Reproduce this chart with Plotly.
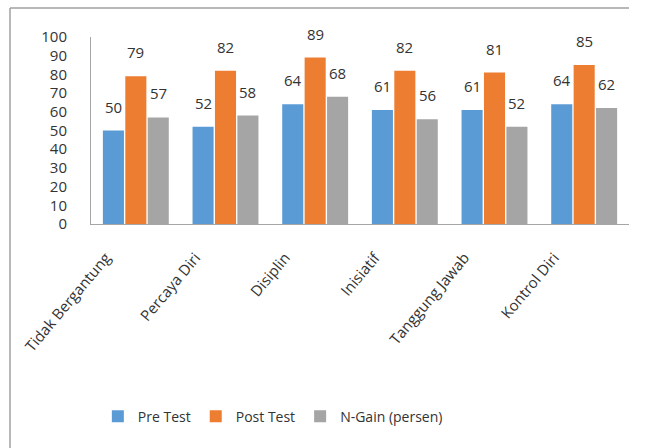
import plotly.graph_objects as go

categories = ["Tidak Bergantung", "Percaya Diri", "Disiplin", "Inisiatif", "Tanggung Jawab", "Kontrol Diri"]
pre_test = [50, 52, 64, 61, 61, 64]
post_test = [79, 82, 89, 82, 81, 85]
n_gain = [57, 58, 68, 56, 52, 62]
series_names = ["Pre Test", "Post Test", "N-Gain (persen)"]
colors = ["#5B9BD5", "#ED7D31", "#A5A5A5"]
y_ticks = [0, 10, 20, 30, 40, 50, 60, 70, 80, 90, 100]

FONT = "Open Sans, sans-serif"
TXT = "#333333"
fig = go.Figure()
all_series = [pre_test, post_test, n_gain]
for name, vals, col in zip(series_names, all_series, colors):
    fig.add_trace(go.Bar(x=categories, y=vals, name=name, marker=dict(color=col, line=dict(width=0))))

offsets = [-0.25, 0.0, 0.25]
for vals, off in zip(all_series, offsets):
    for i, v in enumerate(vals):
        fig.add_annotation(x=i + off, y=v, text=str(v), showarrow=False,
                           yanchor="bottom", yshift=12,
                           font=dict(family=FONT, size=15, color=TXT))

fig.update_layout(
    width=648, height=448,
    margin=dict(l=91, r=19, t=37, b=224),
    paper_bgcolor="white", plot_bgcolor="white",
    barmode="group", bargap=0.25, bargroupgap=0.06,
    font=dict(family=FONT, size=14, color=TXT),
    showlegend=True,
    legend=dict(orientation="h", x=0.338, xanchor="center", y=-1.03, yanchor="middle",
                font=dict(family=FONT, size=14, color=TXT), itemwidth=30,
                traceorder="normal"),
    xaxis=dict(showline=True, linecolor="#A6A6A6", linewidth=1, tickangle=-50,
               ticks="", showgrid=False, ticklabelstandoff=18, ticklabelshift=-30,
               tickfont=dict(family=FONT, size=15, color=TXT)),
    yaxis=dict(range=[0, 100], tickvals=y_ticks, showline=True, linecolor="#A6A6A6",
               linewidth=1, showgrid=False, zeroline=False, ticks="",
               ticklabelstandoff=20,
               tickfont=dict(family=FONT, size=15, color=TXT)),
)

x_left = (10 - 91) / 538
y_top = (224 - 8) / 187
fig.add_shape(type="line", xref="paper", yref="paper", x0=x_left, x1=x_left, y0=y_top, y1=-1.25,
              line=dict(color="#A0A0A0", width=1.5), layer="below")
fig.add_shape(type="line", xref="paper", yref="paper", x0=x_left, x1=1.0, y0=y_top, y1=y_top,
              line=dict(color="#A0A0A0", width=1.5), layer="below")

fig.write_html("out.html")
